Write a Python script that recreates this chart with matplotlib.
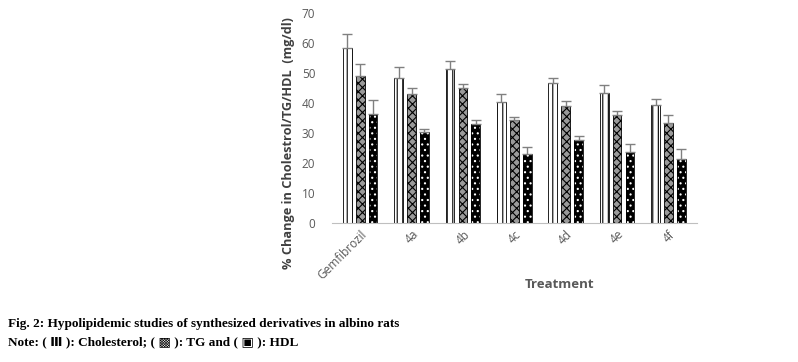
import numpy as np
import matplotlib.pyplot as plt

treatments = ['Gemfibrozil', '4a', '4b', '4c', '4d', '4e', '4f']
cholesterol = [58.5, 48.5, 51.5, 40.5, 46.8, 43.2, 39.3]
chol_err = [4.5, 3.5, 2.5, 2.5, 1.4, 2.9, 2.1]
tg = [49.0, 43.0, 45.0, 34.5, 39.0, 36.0, 33.2]
tg_err = [4.0, 2.0, 1.5, 1.0, 1.8, 1.3, 2.7]
hdl = [36.5, 30.5, 33.0, 23.0, 27.7, 23.8, 21.2]
hdl_err = [4.5, 1.0, 1.5, 2.5, 1.3, 2.6, 3.4]

plt.rcParams['hatch.linewidth'] = 0.8
plt.rcParams['font.family'] = ['Open Sans', 'DejaVu Sans']

fig = plt.figure(figsize=(7.98, 3.62), dpi=100)
ax = fig.add_axes([0.416, 0.384, 0.457, 0.58])

x = np.arange(len(treatments))
w = 0.17
gray = '#808080'
ekw = dict(ecolor=gray, elinewidth=1, capsize=3.5, capthick=1)

def up(err):
    return [np.zeros(len(err)), err]

ax.bar(x - 0.25, cholesterol, w, color='white', edgecolor='black', hatch='|||',
       linewidth=0.6, yerr=up(chol_err), error_kw=ekw)
ax.bar(x, tg, w, color='#9a9a9a', edgecolor='black', hatch='xxxx',
       linewidth=0.6, yerr=up(tg_err), error_kw=ekw)
ax.bar(x + 0.25, hdl, w, color='black', edgecolor='white', hatch='...',
       linewidth=0, yerr=up(hdl_err), error_kw=ekw)
ax.bar(x + 0.25, hdl, w, color='none', edgecolor='black', linewidth=0.6)

ax.set_ylim(0, 70)
ax.set_xlim(-0.55, len(treatments) - 0.45)
ax.set_yticks(range(0, 71, 10))
ax.set_xticks(x)
ax.set_xticklabels(treatments, rotation=45, ha='right', rotation_mode='anchor')
ax.tick_params(length=0, colors='#595959', labelsize=8.5)
ax.tick_params(axis='y', pad=12)
for s in ['top', 'right', 'left']:
    ax.spines[s].set_visible(False)
ax.spines['bottom'].set_color('#bfbfbf')

ax.set_ylabel('% Change in Cholestrol/TG/HDL  (mg/dl)', fontsize=9.2,
              fontweight='bold', color='#404040')
ax.yaxis.set_label_coords(-0.1, 0.38)
ax.set_xlabel('Treatment', fontsize=9.5, fontweight='bold', color='#595959')
ax.xaxis.set_label_coords(0.625, -0.26)

fam = ['Liberation Serif', 'DejaVu Sans']
fig.text(0.01, 0.097, 'Fig. 2: Hypolipidemic studies of synthesized derivatives in albino rats',
         family=fam, fontweight='bold', fontsize=9.5)
fig.text(0.01, 0.045, 'Note: ( \u2162 ): Cholesterol; ( \u25a9 ): TG and ( \u25a3 ): HDL',
         family=fam, fontweight='bold', fontsize=9.5)

fig.savefig('out.png', dpi=100)
